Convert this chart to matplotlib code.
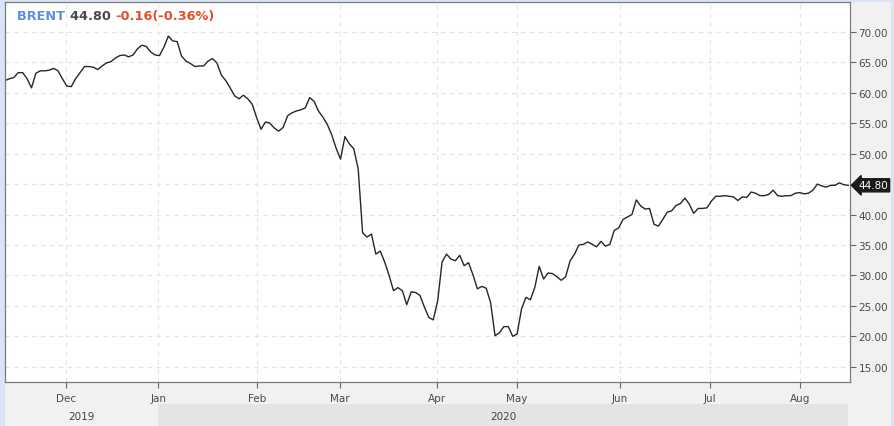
import matplotlib.pyplot as plt
import matplotlib.ticker as ticker
import matplotlib.transforms as mtransforms
from matplotlib.patches import Rectangle
import numpy as np

# Brent daily closes, one per trading day
brent = [62.0, 62.3, 62.5, 63.3, 63.3, 62.3, 60.8, 63.2, 63.6, 63.6,
         63.7, 64.0, 63.6, 62.3, 61.1, 61.0, 62.3, 63.3, 64.3, 64.3,
         64.2, 63.8, 64.4, 64.9, 65.1, 65.7, 66.1, 66.2, 65.9, 66.2,
         67.2, 67.8, 67.6, 66.7, 66.2, 66.1, 67.5, 69.3, 68.5, 68.4,
         66.0, 65.2, 64.8, 64.3, 64.4, 64.4, 65.2, 65.6, 64.9, 62.9,
         62.0, 60.8, 59.5, 59.0, 59.6, 59.0, 58.1, 55.9, 54.0, 55.2,
         55.0, 54.2, 53.7, 54.3, 56.2, 56.7, 57.0, 57.2, 57.5, 59.2,
         58.6, 57.0, 56.0, 54.8, 53.1, 50.9, 49.1, 52.8, 51.6, 50.8,
         47.5, 37.0, 36.3, 36.8, 33.5, 34.0, 32.2, 30.0, 27.5, 28.0,
         27.5, 25.2, 27.3, 27.2, 26.7, 24.8, 23.1, 22.7, 25.8, 32.2,
         33.5, 32.7, 32.4, 33.3, 31.6, 32.1, 30.1, 27.8, 28.2, 27.9,
         25.5, 20.1, 20.6, 21.6, 21.6, 20.0, 20.4, 24.5, 26.4, 26.0,
         28.0, 31.5, 29.4, 30.4, 30.3, 29.8, 29.2, 29.8, 32.4, 33.5,
         35.0, 35.1, 35.5, 35.1, 34.7, 35.6, 34.8, 35.1, 37.4, 37.8,
         39.2, 39.6, 40.0, 42.4, 41.4, 40.9, 41.0, 38.4, 38.1, 39.2,
         40.4, 40.6, 41.5, 41.8, 42.7, 41.7, 40.2, 41.0, 41.0, 41.1,
         42.2, 43.0, 43.0, 43.1, 43.0, 42.9, 42.3, 42.9, 42.8, 43.7,
         43.5, 43.1, 43.1, 43.3, 44.0, 43.1, 43.0, 43.1, 43.1, 43.5,
         43.6, 43.4, 43.5, 44.0, 45.0, 44.7, 44.5, 44.8, 44.8, 45.2,
         44.9, 44.8]

months = ['Dec', 'Jan', 'Feb', 'Mar', 'Apr', 'May', 'Jun', 'Jul', 'Aug']
month_pos = [13.8, 34.7, 57.1, 75.9, 97.9, 116.0, 139.3, 159.7, 180.1]
years = ['2019', '2020']
last_price = 44.80
change_txt = '-0.16(-0.36%)'

W, H = 894, 427
fig = plt.figure(figsize=(W / 100, H / 100), dpi=100)
fig.patch.set_facecolor('#d7e5f6')

# grey panel behind the chart
fig.add_artist(Rectangle((5 / W, 0), 886 / W, 424 / H, transform=fig.transFigure,
                         facecolor='#f1f1f1', edgecolor='none', zorder=-5))

ax = fig.add_axes([5 / W, 44 / H, 845 / W, 380 / H])
ax.set_facecolor('white')

x = np.arange(len(brent))
ax.plot(x, brent, color='#262626', linewidth=1.0)

ax.set_xlim(0, 191.4)
ax.set_ylim(12.5, 74.9)

ax.yaxis.tick_right()
ax.yaxis.set_major_locator(ticker.MultipleLocator(5))
ax.yaxis.set_major_formatter(ticker.FormatStrFormatter('%.2f'))
ax.set_yticks([v for v in ax.get_yticks() if 14 < v < 72])
ax.set_xticks(month_pos)
ax.set_xticklabels(months)

ax.tick_params(axis='both', direction='out', length=4, width=0.8,
               color='#666666', labelsize=7.5, labelcolor='#4a4a4a', pad=2)
ax.tick_params(axis='x', pad=4)

ax.grid(True, color='#e3e3e3', linestyle=(0, (4, 4)), linewidth=0.8)
for s in ax.spines.values():
    s.set_color('#7a7a7a')
    s.set_linewidth(0.9)

# last price marker
ax.annotate('%.2f' % last_price, xy=(1.0, last_price),
            xycoords=('axes fraction', 'data'), xytext=(6, 0),
            textcoords='offset points', ha='left', va='center',
            fontsize=7.5, color='white',
            bbox=dict(boxstyle='larrow,pad=0.15', fc='#1a1a1a', ec='#1a1a1a'))

# header
t1 = ax.text(12 / 845, 0.982, 'BRENT ', transform=ax.transAxes,
             ha='left', va='top', fontsize=9.3,
             fontweight='bold', color='#5b8ee6')
t2 = ax.annotate('%.2f ' % last_price, xy=(1, 0), xycoords=t1, va='bottom',
                 fontsize=9.3, fontweight='bold', color='#4a4a4a')
ax.annotate(change_txt, xy=(1, 0), xycoords=t2, va='bottom',
            fontsize=9.3, fontweight='bold', color='#e0502a')

# year band under the month labels
band = mtransforms.blended_transform_factory(ax.transData, fig.transFigure)
x0, x1 = ax.get_xlim()
edges = [x0, month_pos[1], x1 - 0.5]
band_cols = ['#f1f1f1', '#e4e4e4']
for i, yr in enumerate(years):
    ax.add_patch(Rectangle((edges[i], 0), edges[i + 1] - edges[i], 22 / H,
                           transform=band, facecolor=band_cols[i],
                           edgecolor='none', clip_on=False, zorder=-1))
    ax.text((edges[i] + edges[i + 1]) / 2, 10 / H, yr, transform=band,
            ha='center', va='center', fontsize=7.5, color='#444444')

fig.savefig('out.png', dpi=100, facecolor=fig.get_facecolor())
